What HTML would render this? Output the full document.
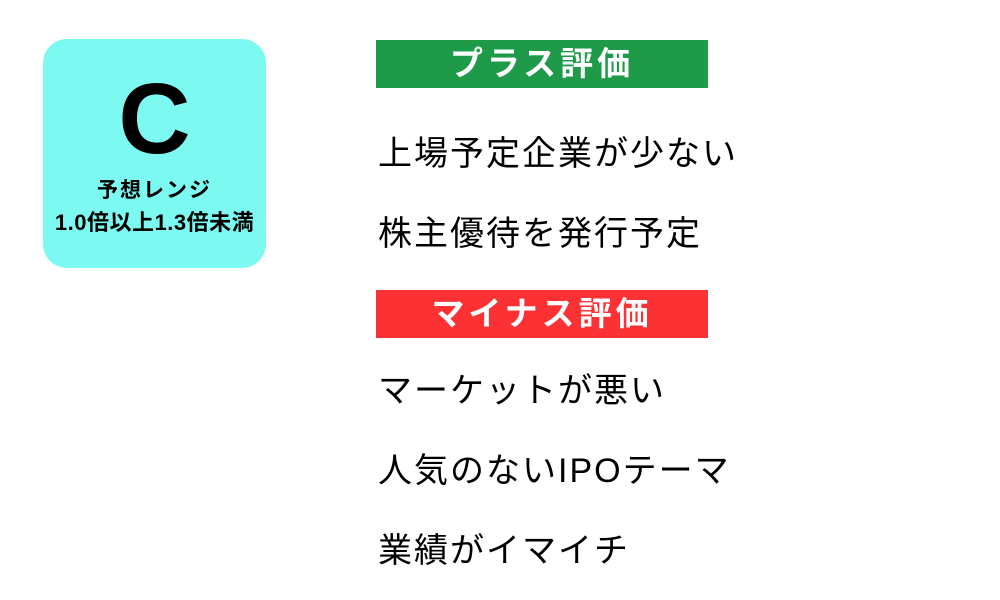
<!DOCTYPE html>
<html><head><meta charset="utf-8"><style>
body{margin:0;width:1000px;height:600px;background:#fff;position:relative;overflow:hidden;font-family:"Liberation Sans","Noto Sans CJK JP",sans-serif}
.box{position:absolute;left:43px;top:39px;width:223px;height:229px;background:#7cf9f1;border-radius:24px}
.c{position:absolute;left:0;width:223px;top:30px;text-align:center;font-size:100px;font-weight:bold;line-height:100px;color:#000}
.l{position:absolute;left:0;width:223px;text-align:center;font-size:21px;font-weight:bold;line-height:26px;white-space:nowrap}
.bar{position:absolute;left:376px;width:332px;height:48px;color:#fff;font-weight:bold;font-size:33px;letter-spacing:4px;text-align:center;line-height:48px}
.t{position:absolute;left:378px;font-size:34px;letter-spacing:2px;line-height:40px;color:#000;white-space:nowrap}
</style></head><body>
<div class="box"><div class="c">C</div><div class="l" style="top:139px;letter-spacing:2px">予想レンジ</div><div class="l" style="top:171px;font-size:22px;letter-spacing:0.5px">1.0倍以上1.3倍未満</div></div>
<div class="bar" style="top:40px;background:#1e9a48">プラス評価</div>
<div class="t" style="top:134px">上場予定企業が少ない</div>
<div class="t" style="top:214px">株主優待を発行予定</div>
<div class="bar" style="top:290px;background:#fb3133">マイナス評価</div>
<div class="t" style="top:371px">マーケットが悪い</div>
<div class="t" style="top:451px">人気のないIPOテーマ</div>
<div class="t" style="top:531px">業績がイマイチ</div>
</body></html>
